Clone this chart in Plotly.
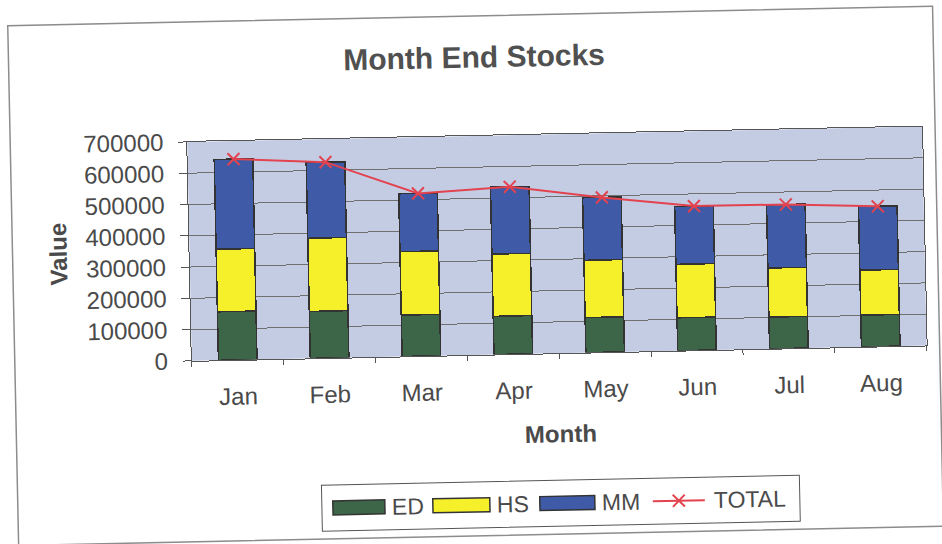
import plotly.graph_objects as go

# Month end stock levels by store group
months = ["Jan", "Feb", "Mar", "Apr", "May", "Jun", "Jul", "Aug"]
ed = [155000, 150000, 132000, 122000, 112000, 105000, 101000, 101000]
hs = [200000, 234000, 203000, 199000, 183000, 171000, 157000, 144000]
mm = [287000, 242000, 185000, 214000, 200000, 185000, 202000, 203000]
total = [a + b + c for a, b, c in zip(ed, hs, mm)]

y_ticks = [0, 100000, 200000, 300000, 400000, 500000, 600000, 700000]

series_names = ["ED", "HS", "MM"]
series_colors = ["#3d6648", "#f5f02a", "#3f5aa6"]
total_color = "#e2434f"

font_family = "Liberation Sans, Arial, sans-serif"
text_col = "#4a4a4a"
bar_line = dict(color="#333333", width=1.5)

# figure and plot-area geometry in pixels
FIG_W, FIG_H = 942, 544
L, R, T, B = 190, 17, 136, 189
PW, PH = FIG_W - L - R, FIG_H - T - B


def px(x):
    return (x - L) / PW


def py(y):
    return (FIG_H - B - y) / PH


fig = go.Figure()
for name, vals, col in zip(series_names, [ed, hs, mm], series_colors):
    fig.add_trace(go.Bar(name=name, x=months, y=vals,
                         marker=dict(color=col, line=bar_line)))
fig.add_trace(go.Scatter(
    name="TOTAL", x=months, y=total, mode="lines+markers",
    line=dict(color=total_color, width=2),
    marker=dict(symbol="x-thin", size=12, line=dict(color=total_color, width=2)),
))

# chart frame
shapes = [dict(type="rect", xref="paper", yref="paper",
               x0=px(13), x1=px(938), y0=py(536), y1=py(16),
               line=dict(color="#8c8c8c", width=1.5), layer="below")]

# legend box drawn below the x-axis title
leg_y = 505
shapes.append(dict(type="rect", xref="paper", yref="paper",
                   x0=px(317), x1=px(795), y0=py(leg_y + 23), y1=py(leg_y - 23),
                   line=dict(color="#555555", width=1), fillcolor="white"))
annotations = []
swatches = [(328, 380, 385), (428, 485, 490), (535, 590, 595)]
for (sx0, sx1, tx), name, col in zip(swatches, series_names, series_colors):
    shapes.append(dict(type="rect", xref="paper", yref="paper",
                       x0=px(sx0), x1=px(sx1), y0=py(leg_y + 7), y1=py(leg_y - 7),
                       line=dict(color="#333333", width=1.5), fillcolor=col))
    annotations.append(dict(text=name, xref="paper", yref="paper", x=px(tx), y=py(leg_y),
                            xanchor="left", yanchor="middle", showarrow=False,
                            font=dict(size=23, color=text_col)))
# TOTAL entry: line with a cross marker
shapes.append(dict(type="line", xref="paper", yref="paper",
                   x0=px(648), x1=px(700), y0=py(leg_y), y1=py(leg_y),
                   line=dict(color=total_color, width=2)))
for dy in (-1, 1):
    shapes.append(dict(type="line", xref="paper", yref="paper",
                       x0=px(668), x1=px(680), y0=py(leg_y - 6 * dy), y1=py(leg_y + 6 * dy),
                       line=dict(color=total_color, width=2)))
annotations.append(dict(text="TOTAL", xref="paper", yref="paper", x=px(707), y=py(leg_y),
                        xanchor="left", yanchor="middle", showarrow=False,
                        font=dict(size=23, color=text_col)))

fig.update_layout(
    width=FIG_W, height=FIG_H,
    barmode="stack", bargap=0.58,
    paper_bgcolor="white", plot_bgcolor="#c4cce4",
    font=dict(family=font_family, color=text_col),
    margin=dict(l=L, r=R, t=T, b=B),
    title=dict(text="<b>Month End Stocks</b>", x=0.508, xanchor="center",
               y=0.895, yanchor="middle", font=dict(size=30, color="#505050")),
    showlegend=False,
    shapes=shapes,
    annotations=annotations,
)

fig.update_xaxes(
    title=dict(text="<b>Month</b>", font=dict(size=24, color=text_col), standoff=23),
    tickfont=dict(size=24, color=text_col), ticklabelstandoff=15,
    showline=True, linecolor="#555555", linewidth=1, mirror=True,
    ticks="outside", ticklen=5, tickcolor="#555555", tickson="boundaries",
    showgrid=False,
)
fig.update_yaxes(
    title=dict(text="<b>Value</b>", font=dict(size=24, color=text_col), standoff=11),
    tickfont=dict(size=24, color=text_col), ticklabelstandoff=10,
    range=[0, 700000], tickvals=y_ticks, ticktext=[str(v) for v in y_ticks],
    showline=True, linecolor="#555555", linewidth=1, mirror=True,
    ticks="outside", ticklen=8, tickcolor="#555555",
    showgrid=True, gridcolor="#707070", gridwidth=1, zeroline=False,
)

# the printed sheet sits slightly tilted on the page
tilt_js = (
    "var d=document.getElementById('{plot_id}');"
    "d.style.transformOrigin='50% 50%';"
    "d.style.transform='rotate(-1.2deg)';"
    "document.body.style.overflow='hidden';"
    "document.documentElement.style.overflow='hidden';"
)

fig.write_html("out.html", post_script=tilt_js)
